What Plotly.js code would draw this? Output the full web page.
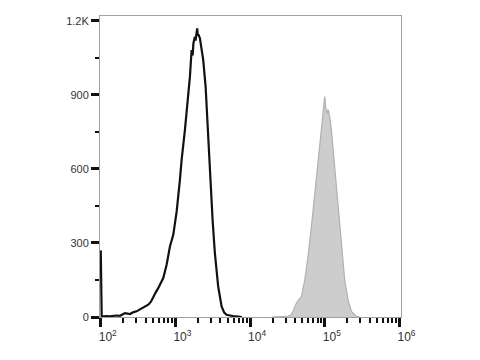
<!DOCTYPE html>
<html>
<head>
<meta charset="utf-8">
<script src="https://cdn.plot.ly/plotly-3.0.1.min.js"></script>
<style>html,body{margin:0;padding:0;background:#fff;}#chart{width:480px;height:360px;}</style>
</head>
<body>
<div id="chart"></div>
<script>
// Unstained / isotype control (black outline)
var controlX = [100, 103, 118, 133, 160, 181, 211, 247, 275, 303, 330, 356, 395, 433, 470, 505, 545, 583, 640, 687, 762, 844, 935, 1038, 1148, 1210, 1340, 1484, 1563, 1647, 1700, 1741, 1823, 1860, 1897, 1956, 1990, 2029, 2125, 2226, 2354, 2535, 2747, 2958, 3143, 3373, 3734, 4147, 4500, 4834, 5300, 5870, 6500, 7280, 7740];
var controlY = [270, 2, 4, 3, 6, 5, 16, 12, 20, 23, 30, 35, 45, 50, 62, 83, 100, 115, 140, 158, 212, 286, 333, 427, 556, 637, 758, 893, 974, 1082, 1060, 1110, 1136, 1120, 1150, 1170, 1140, 1145, 1130, 1090, 1042, 934, 731, 529, 394, 259, 124, 43, 18, 9, 6, 4, 3, 2, 0];
// Stained sample (grey filled)
var stainedX = [19500, 24950, 28500, 32200, 35000, 37600, 39600, 41700, 44800, 48700, 53900, 59600, 66200, 73300, 81100, 90100, 94600, 97600, 99700, 102800, 107000, 111000, 116200, 122500, 135600, 150200, 166600, 184500, 204300, 226800, 264400, 292800];
var stainedY = [0, 2, 4, 3, 8, 23, 40, 57, 70, 83, 151, 245, 367, 502, 623, 758, 826, 860, 893, 850, 826, 840, 812, 758, 610, 448, 286, 151, 70, 23, 3, 0];

var xTickVals = [100, 1000, 10000, 100000, 1000000];
var xTickText = ['10<sup>2</sup>', '10<sup>3</sup>', '10<sup>4</sup>', '10<sup>5</sup>', '10<sup>6</sup>'];
var yTickVals = [0, 300, 600, 900, 1200];
var yTickText = ['0', '300', '600', '900', '1.2K'];

var xMinor = [];
for (var e = 2; e < 6; e++) { for (var m = 2; m <= 9; m++) { xMinor.push(m * Math.pow(10, e)); } }

var traces = [
  {x: stainedX, y: stainedY, type: 'scatter', mode: 'lines', fill: 'tozeroy',
   fillcolor: '#cdcdcd', line: {color: '#b0b0b0', width: 1.2}, hoverinfo: 'skip'},
  {x: controlX, y: controlY, type: 'scatter', mode: 'lines',
   line: {color: '#111111', width: 2.2}, hoverinfo: 'skip'}
];

var layout = {
  width: 480, height: 360,
  margin: {l: 100, r: 79, t: 16, b: 43},
  paper_bgcolor: '#ffffff', plot_bgcolor: '#ffffff',
  showlegend: false,
  font: {family: 'Liberation Sans, Arial, sans-serif', size: 11, color: '#333333'},
  xaxis: {
    type: 'log', range: [1.99, 6.02],
    tickmode: 'array', tickvals: xTickVals, ticktext: xTickText,
    ticks: 'outside', ticklen: 9, tickwidth: 3, tickcolor: '#111',
    minor: {tickmode: 'array', tickvals: xMinor, ticks: 'outside', ticklen: 5, tickwidth: 2, tickcolor: '#111', showgrid: false},
    showline: true, linecolor: '#a0a0a0', linewidth: 1, mirror: true,
    showgrid: false, zeroline: false,
    ticklabelshift: 7,
    tickfont: {size: 12, color: '#333333'}
  },
  yaxis: {
    range: [0, 1220],
    tickmode: 'array', tickvals: yTickVals, ticktext: yTickText,
    ticks: 'outside', ticklen: 8, tickwidth: 3, tickcolor: '#111',
    minor: {dtick: 150, tick0: 0, ticks: 'outside', ticklen: 4, tickwidth: 2, tickcolor: '#111', showgrid: false},
    showline: true, linecolor: '#a0a0a0', linewidth: 1, mirror: true,
    showgrid: false, zeroline: false,
    tickfont: {size: 11, color: '#333333'}
  }
};

Plotly.newPlot('chart', traces, layout, {staticPlot: true, displayModeBar: false});
</script>
</body>
</html>
